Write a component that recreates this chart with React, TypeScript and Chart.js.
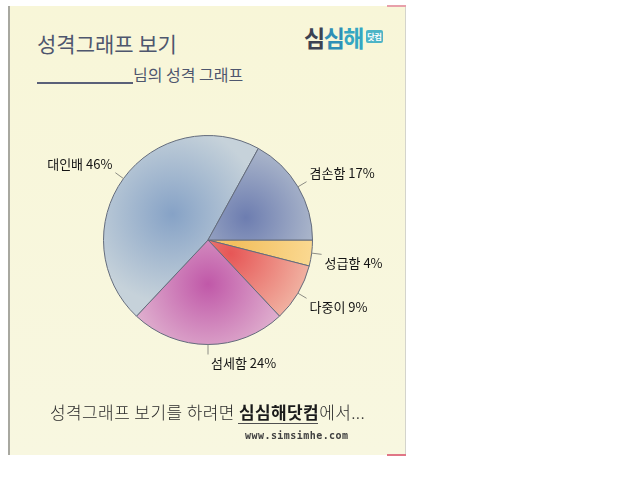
import React, { useEffect, useRef } from "react";
import { Chart, registerables } from "chart.js";

Chart.register(...registerables);

// Data (clockwise from 3 o'clock)
const categories = ["성급함", "다중이", "섬세함", "대인배", "겸손함"];
const values = [4, 9, 24, 46, 17];
const centerColors = ["#f3bf5e", "#e65656", "#c058a8", "#86a2c6", "#6d7db0"];
const edgeColors = ["#fbdc98", "#f2bcaa", "#e4bcd4", "#c6d2da", "#bcc6d2"];

const titleText = "성격그래프 보기";
const subtitleText = "님의 성격 그래프";
const footerPre = "성격그래프 보기를 하려면 ";
const footerBrand = "심심해닷컴";
const footerPost = "에서...";
const footerUrl = "www.simsimhe.com";

const FONT = '"Noto Sans CJK KR", "Noto Sans", sans-serif';

const labelPlugin = {
  id: "outLabels",
  afterDatasetsDraw(chart: any) {
    const ctx = chart.ctx;
    const meta = chart.getDatasetMeta(0);
    ctx.save();
    meta.data.forEach((arc: any, i: number) => {
      const mid = (arc.startAngle + arc.endAngle) / 2;
      const r = arc.outerRadius;
      const cos = Math.cos(mid);
      const sin = Math.sin(mid);
      const x1 = arc.x + cos * r;
      const y1 = arc.y + sin * r;
      const x2 = arc.x + cos * (r + 10);
      const y2 = arc.y + sin * (r + 10);
      ctx.strokeStyle = "#8c8c84";
      ctx.lineWidth = 1;
      ctx.beginPath();
      ctx.moveTo(x1, y1);
      ctx.lineTo(x2, y2);
      ctx.stroke();
      const txt = categories[i] + " " + values[i] + "%";
      ctx.font = "13px " + FONT;
      ctx.fillStyle = "#141414";
      ctx.textBaseline = "middle";
      let tx: number;
      if (cos < -0.2) {
        ctx.textAlign = "right";
        tx = x2 - 3;
      } else {
        ctx.textAlign = "left";
        tx = x2 + 3;
      }
      const ty = y2 + (sin >= 0 ? 9 : -9);
      ctx.fillText(txt, tx, ty);
    });
    ctx.restore();
  },
};

export default function App() {
  const ref = useRef<HTMLCanvasElement | null>(null);

  useEffect(() => {
    if (!ref.current) return;
    const total = values.reduce((a, b) => a + b, 0);
    const chart = new Chart(ref.current, {
      type: "pie",
      data: {
        labels: categories,
        datasets: [
          {
            data: values,
            borderColor: "#646c7c",
            borderWidth: 1,
            backgroundColor: (c: any) => {
              const ch = c.chart;
              const area = ch.chartArea;
              const i = c.dataIndex;
              if (!area || i === undefined) return centerColors[i || 0];
              const cx = (area.left + area.right) / 2;
              const cy = (area.top + area.bottom) / 2;
              const R = Math.min(area.right - area.left, area.bottom - area.top) / 2;
              let cum = 0;
              for (let k = 0; k < i; k++) cum += values[k];
              const a0 = (cum / total) * Math.PI * 2;
              const a1 = ((cum + values[i]) / total) * Math.PI * 2;
              const mid = (a0 + a1) / 2;
              const d = values[i] < 12 ? 0.25 * R : 0.42 * R;
              const gx = cx + Math.cos(mid) * d;
              const gy = cy + Math.sin(mid) * d;
              const g = ch.ctx.createRadialGradient(gx, gy, 0, gx, gy, R * 0.85);
              g.addColorStop(0, centerColors[i]);
              g.addColorStop(1, edgeColors[i]);
              return g;
            },
          },
        ],
      },
      options: {
        responsive: false,
        animation: false,
        rotation: 90,
        layout: { padding: { left: 103, top: 135, right: 327, bottom: 135 } },
        plugins: {
          legend: { display: false },
          tooltip: { enabled: false },
          title: { display: false },
        },
      },
      plugins: [labelPlugin],
    } as any);
    return () => chart.destroy();
  }, []);

  return (
    <div style={{ position: "absolute", left: 0, top: 0, width: 640, height: 480, background: "#ffffff", overflow: "hidden", fontFamily: FONT }}>
      {/* card */}
      <div style={{ position: "absolute", left: 8, top: 6, width: 398, height: 449, background: "linear-gradient(#f8f6d8, #f8f7e0)", borderLeft: "2px solid #a8a8a0", borderRight: "1px solid #d4d4cc", boxSizing: "border-box" }} />
      <div style={{ position: "absolute", left: 387, top: 5, width: 19, height: 2, background: "#e8a0aa" }} />
      <div style={{ position: "absolute", left: 387, top: 454, width: 19, height: 2, background: "#e07686" }} />
      {/* title */}
      <div style={{ position: "absolute", left: 37, top: 29, fontSize: 21, fontWeight: 400, color: "#4e566e", whiteSpace: "nowrap", lineHeight: "28px" }}>{titleText}</div>
      <div style={{ position: "absolute", left: 37, top: 82, width: 96, height: 2, background: "#5a6078" }} />
      <div style={{ position: "absolute", left: 133, top: 63, fontSize: 16, fontWeight: 400, color: "#4e566e", whiteSpace: "nowrap", lineHeight: "22px" }}>{subtitleText}</div>
      {/* logo */}
      <div style={{ position: "absolute", left: 304, top: 22, fontSize: 23, fontWeight: 700, whiteSpace: "nowrap", lineHeight: "30px", letterSpacing: -1.5 }}>
        <span style={{ color: "#3c4252" }}>심</span>
        <span style={{ color: "#2f8fb6" }}>심</span>
        <span style={{ color: "#34a6c2" }}>해</span>
      </div>
      <div style={{ position: "absolute", left: 366, top: 30, width: 17, height: 13, background: "#4cb4c6", borderRadius: 2, color: "#ffffff", fontSize: 8, fontWeight: 700, lineHeight: "13px", textAlign: "center", whiteSpace: "nowrap" }}>닷컴</div>
      {/* chart */}
      <canvas ref={ref} width={640} height={480} style={{ position: "absolute", left: 0, top: 0, width: 640, height: 480 }} />
      {/* footer */}
      <div style={{ position: "absolute", left: 50, top: 400, fontSize: 17, fontWeight: 300, color: "#2a2a2a", whiteSpace: "nowrap", lineHeight: "24px", letterSpacing: 0.4 }}>
        {footerPre}
        <span style={{ fontWeight: 700, color: "#1a1a1a" }}>{footerBrand}</span>
        {footerPost}
      </div>
      <div style={{ position: "absolute", left: 238, top: 423, width: 80, height: 1, background: "#505050" }} />
      <div style={{ position: "absolute", left: 245, top: 429, fontSize: 10, fontWeight: 700, color: "#404040", whiteSpace: "nowrap", lineHeight: "14px", letterSpacing: 0.45, fontFamily: '"DejaVu Sans Mono", monospace' }}>{footerUrl}</div>
    </div>
  );
}
